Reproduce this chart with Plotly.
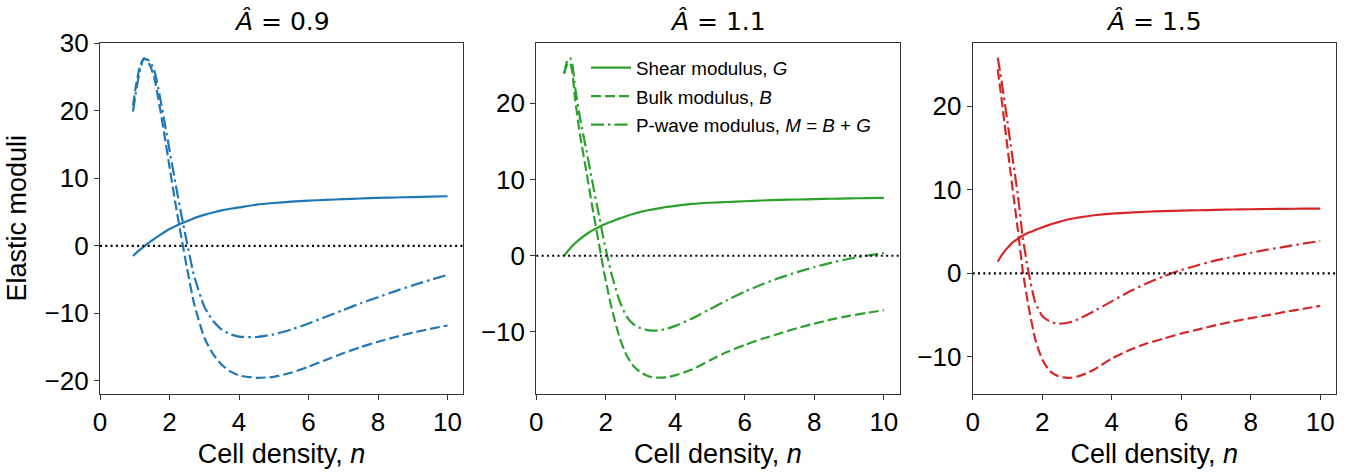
import plotly.graph_objects as go
from plotly.subplots import make_subplots

# ---------------- data ----------------
A_values = ["0.9", "1.1", "1.5"]

n_a09 = [0.95, 1.05, 1.15, 1.26, 1.4, 1.55, 1.72, 1.87, 2.0, 2.18, 2.35, 2.5, 2.7, 3.0,
         3.25, 3.5, 3.75, 4.0, 4.5, 5.0, 5.5, 6.0, 6.5, 7.0, 7.5, 8.0, 8.5, 9.0, 9.5, 10.0]
G_a09 = [-1.5, -1.0, -0.55, -0.1, 0.45, 1.0, 1.6, 2.1, 2.5, 2.95, 3.35, 3.65, 4.1, 4.6,
         4.95, 5.25, 5.5, 5.7, 6.1, 6.35, 6.55, 6.7, 6.82, 6.92, 7.02, 7.1, 7.17, 7.23, 7.3, 7.35]
B_a09 = [20.8, 24.2, 26.6, 27.8, 27.1, 25.2, 20.6, 15.9, 11.7, 6.0, 1.0, -3.2, -8.4, -13.6,
         -16.0, -17.6, -18.6, -19.2, -19.55, -19.4, -18.8, -17.9, -16.9, -15.9, -15.0, -14.2,
         -13.5, -12.85, -12.3, -11.8]
M_a09 = [19.9, 23.3, 26.0, 27.7, 27.5, 26.2, 22.2, 18.0, 14.2, 9.0, 4.4, 0.5, -4.3, -9.0,
         -11.1, -12.4, -13.1, -13.45, -13.5, -13.1, -12.4, -11.5, -10.5, -9.5, -8.5, -7.6,
         -6.7, -5.85, -5.05, -4.3]

n_a11 = [0.8, 0.87, 0.93, 0.98, 1.04, 1.12, 1.26, 1.45, 1.6, 1.79, 1.93, 2.05, 2.17, 2.4,
         2.6, 2.8, 3.0, 3.25, 3.5, 3.75, 4.0, 4.5, 5.0, 5.5, 6.0, 6.5, 7.0, 7.5, 8.0, 8.5,
         9.0, 9.5, 10.0]
G_a11 = [0.0, 0.4, 0.75, 1.0, 1.3, 1.65, 2.2, 2.85, 3.3, 3.75, 4.05, 4.3, 4.5, 4.9,
         5.2, 5.5, 5.75, 6.0, 6.2, 6.4, 6.55, 6.8, 6.95, 7.05, 7.15, 7.25, 7.32, 7.38, 7.43,
         7.48, 7.52, 7.56, 7.6]
B_a11 = [23.9, 24.9, 25.3, 25.2, 24.0, 20.4, 15.8, 10.8, 6.7, 1.9, -1.7, -4.4, -6.9, -10.8,
         -13.1, -14.5, -15.3, -15.85, -16.0, -15.95, -15.7, -14.9, -13.7, -12.6, -11.7,
         -10.9, -10.2, -9.5, -8.9, -8.35, -7.9, -7.5, -7.15]
M_a11 = [23.9, 25.3, 25.9, 25.9, 25.0, 22.0, 18.0, 13.6, 10.0, 5.6, 2.3, -0.2, -2.5, -6.0,
         -8.0, -9.0, -9.5, -9.8, -9.8, -9.6, -9.2, -8.2, -7.0, -5.8, -4.7, -3.75, -2.9,
         -2.15, -1.5, -0.9, -0.4, 0.0, 0.35]

n_a15 = [0.72, 0.8, 0.9, 1.0, 1.1, 1.2, 1.3, 1.44, 1.6, 1.8, 2.0, 2.2, 2.4, 2.6, 2.8,
         3.0, 3.25, 3.5, 4.0, 4.5, 5.0, 5.5, 6.0, 6.5, 7.0, 7.5, 8.0, 8.5, 9.0, 9.5, 10.0]
G_a15 = [1.4, 1.95, 2.55, 3.05, 3.5, 3.85, 4.15, 4.5, 4.85, 5.2, 5.5, 5.8, 6.05, 6.3, 6.5,
         6.65, 6.8, 6.95, 7.15, 7.27, 7.37, 7.45, 7.5, 7.55, 7.6, 7.64, 7.67, 7.7, 7.72,
         7.74, 7.75]
B_a15 = [24.4, 21.9, 18.5, 15.1, 11.7, 8.4, 5.2, 0.3, -3.8, -7.9, -10.3, -11.6, -12.2,
         -12.45, -12.5, -12.35, -12.0, -11.5, -10.2, -9.2, -8.4, -7.8, -7.2, -6.7, -6.2,
         -5.75, -5.35, -5.0, -4.6, -4.25, -3.9]
M_a15 = [25.8, 23.85, 21.05, 18.15, 15.2, 12.25, 9.35, 4.3, 0.3, -3.5, -5.1, -5.7, -6.0,
         -6.0, -5.85, -5.55, -5.05, -4.5, -3.35, -2.2, -1.2, -0.35, 0.4, 1.0, 1.55, 2.0, 2.45,
         2.85, 3.2, 3.55, 3.87]

panels = [
    (n_a09, G_a09, B_a09, M_a09),
    (n_a11, G_a11, B_a11, M_a11),
    (n_a15, G_a15, B_a15, M_a15),
]

series_names = ["Shear modulus, <i>G</i>", "Bulk modulus, <i>B</i>",
                "P-wave modulus, <i>M</i> = <i>B</i> + <i>G</i>"]
y_ranges = [[-21.9, 30.1], [-18.1, 27.95], [-14.4, 27.6]]
x_range = [0, 10.45]

# ---------------- styling ----------------
colors = ["#1f77b4", "#2ca02c", "#d62728"]
dashes = ["solid", "10px,4px", "13px,4px,2.5px,4px"]
W, H = 1372, 472
plot_left = [100, 536.3, 972.7]
plot_w = 363.2
top_px, bottom_px = 42.7, 393.7
FONT = "Liberation Sans, Arial, Helvetica, sans-serif"

fig = make_subplots(rows=1, cols=3)

for i, (n, G, B, M) in enumerate(panels):
    for j, vals in enumerate([G, B, M]):
        fig.add_trace(
            go.Scatter(
                x=n, y=vals, mode="lines", name=series_names[j],
                legendgroup=f"s{j}",
                line=dict(color=colors[i], width=2.2, dash=dashes[j],
                          shape="spline", smoothing=0.5),
                showlegend=(i == 1), hoverinfo="skip",
            ),
            row=1, col=i + 1,
        )
    fig.add_hline(y=0, row=1, col=i + 1,
                  line=dict(color="black", width=2.2, dash="2px,3.3px"))

for i in range(3):
    xd = [plot_left[i] / W, (plot_left[i] + plot_w) / W]
    yd = [1 - bottom_px / H, 1 - top_px / H]
    axis_common = dict(showline=True, mirror=True, linecolor="#333", linewidth=1.2,
                       ticks="outside", ticklen=5, tickwidth=1.2, tickcolor="#333",
                       showgrid=False, zeroline=False, automargin=False,
                       tickfont=dict(family=FONT, size=26, color="black"))
    fig.update_xaxes(domain=xd, range=x_range, autorange=False, dtick=2, tick0=0,
                     title=dict(text="Cell density, <i>n</i>",
                                font=dict(family=FONT, size=27, color="black"),
                                standoff=8),
                     **axis_common, row=1, col=i + 1)
    fig.update_yaxes(domain=yd, range=y_ranges[i], autorange=False, dtick=10, tick0=0,
                     **axis_common, row=1, col=i + 1)
    fig.add_annotation(
        text=f"<i>Â</i> = {A_values[i]}", xref="paper", yref="paper",
        x=(plot_left[i] + plot_w / 2) / W, y=1 - 22 / H,
        xanchor="center", yanchor="middle", showarrow=False,
        font=dict(family="DejaVu Sans", size=25, color="black"),
    )

fig.update_yaxes(title=dict(text="Elastic moduli",
                            font=dict(family=FONT, size=27, color="black"),
                            standoff=10), row=1, col=1)

fig.update_layout(
    template="none",
    width=W, height=H,
    margin=dict(l=0, r=0, t=0, b=0, autoexpand=False),
    plot_bgcolor="white", paper_bgcolor="white",
    font=dict(family=FONT, color="black"),
    legend=dict(x=586 / W, y=1 - 49 / H, xanchor="left", yanchor="top",
                bgcolor="rgba(0,0,0,0)", font=dict(family=FONT, size=18.8, color="black"),
                tracegroupgap=1, itemwidth=40),
)

fig.write_html("out.html")
